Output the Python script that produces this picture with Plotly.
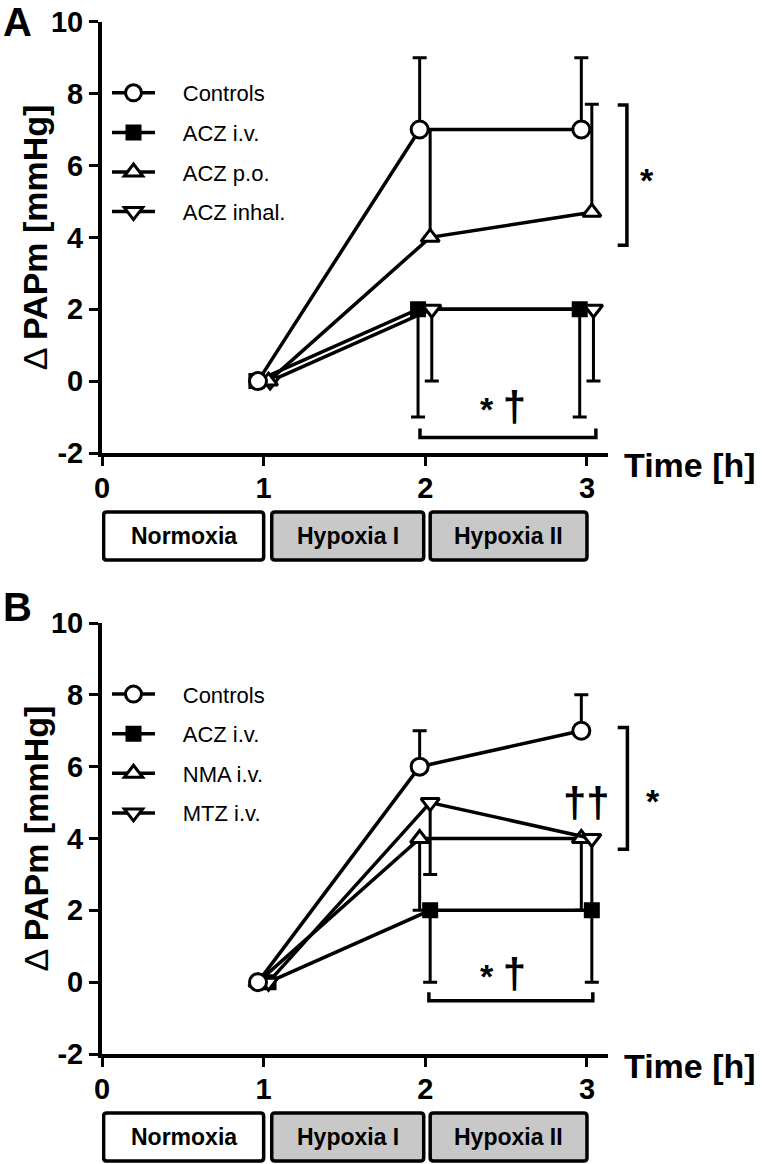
import plotly.graph_objects as go

W, H = 763, 1164
FONT = "Liberation Sans, Arial, Helvetica, sans-serif"

# ---------------- data ----------------
times = [1, 2, 3]

# Panel A
a_names = ["Controls", "ACZ i.v.", "ACZ p.o.", "ACZ inhal."]
a_controls = [0, 7, 7]
a_controls_up = [0, 2, 2]
a_acz_iv = [0, 2, 2]
a_acz_iv_down = [0, 3, 3]
a_acz_po = [0, 4, 4.7]
a_acz_po_up = [0, 3, 3]
a_acz_inh = [0, 2, 2]
a_acz_inh_down = [0, 2, 2]

# Panel B
b_names = ["Controls", "ACZ i.v.", "NMA i.v.", "MTZ i.v."]
b_controls = [0, 6, 7]
b_controls_up = [0, 1, 1]
b_acz_iv = [0, 2, 2]
b_acz_iv_down = [0, 2, 2]
b_nma = [0, 4, 4]
b_nma_down = [0, 2, 2]
b_mtz = [0, 5, 4]
b_mtz_down = [0, 2, 2]

x_ticks = [0, 1, 2, 3]
y_ticks = [-2, 0, 2, 4, 6, 8, 10]
y_ticktext = ["-2", "0", "2", "4", "6", "8", "10"]
phases = ["Normoxia", "Hypoxia I", "Hypoxia II"]
phase_fill = ["white", "#c8c8c8", "#c8c8c8"]
phase_span = [(0.01, 1.0), (1.05, 1.99), (2.03, 3.0)]

# ---------------- layout geometry ----------------
X_RANGE = [0, 3.13]
Y_RANGE = [-2, 10]
X_DOM = [102 / W, 608 / W]
A_DOM = [1 - 453 / H, 1 - 21.7 / H]
B_DOM = [1 - 1054 / H, 1 - 623 / H]


def xp(v):
    return X_DOM[0] + (v - X_RANGE[0]) / (X_RANGE[1] - X_RANGE[0]) * (X_DOM[1] - X_DOM[0])


def yp(dom, v):
    return dom[0] + (v - Y_RANGE[0]) / (Y_RANGE[1] - Y_RANGE[0]) * (dom[1] - dom[0])


def mk(symbol, size, fill):
    return dict(symbol=symbol, size=size, color=fill, line=dict(color="black", width=3))


M_CIRCLE = mk("circle", 17, "white")
M_SQUARE = mk("square", 13, "black")
M_TUP = mk("triangle-up", 16, "white")
M_TDOWN = mk("triangle-down", 16, "white")

LEFT, RIGHT = -0.035, 0.03
PAD = "\u00a0\u00a0\u00a0\u2009"

fig = go.Figure()


def add_series(name, y, up, down, marker, nudge, xa, ya, legend, rank):
    fig.add_trace(go.Scatter(
        x=[t + nudge for t in times], y=y, mode="lines+markers", name=PAD + name,
        line=dict(color="black", width=3.5), marker=marker,
        error_y=dict(type="data", symmetric=False, array=up, arrayminus=down,
                     color="black", thickness=3, width=7),
        xaxis=xa, yaxis=ya, legend=legend, legendgroup=f"{legend}{rank}", legendrank=rank,
        cliponaxis=False))


# drawing order (bottom to top); legend order via legendrank
add_series(a_names[1], a_acz_iv, [0, 0, 0], a_acz_iv_down, M_SQUARE, LEFT - 0.01, "x", "y", "legend", 2)
add_series(a_names[3], a_acz_inh, [0, 0, 0], a_acz_inh_down, M_TDOWN, RIGHT + 0.01, "x", "y", "legend", 4)
add_series(a_names[2], a_acz_po, a_acz_po_up, [0, 0, 0], M_TUP, RIGHT, "x", "y", "legend", 3)
add_series(a_names[0], a_controls, a_controls_up, [0, 0, 0], M_CIRCLE, LEFT, "x", "y", "legend", 1)

add_series(b_names[1], b_acz_iv, [0, 0, 0], b_acz_iv_down, M_SQUARE, RIGHT, "x2", "y2", "legend2", 2)
add_series(b_names[2], b_nma, [0, 0, 0], b_nma_down, M_TUP, LEFT, "x2", "y2", "legend2", 3)
add_series(b_names[3], b_mtz, [0, 0, 0], b_mtz_down, M_TDOWN, RIGHT, "x2", "y2", "legend2", 4)
add_series(b_names[0], b_controls, b_controls_up, [0, 0, 0], M_CIRCLE, LEFT, "x2", "y2", "legend2", 1)

xaxis_style = dict(range=X_RANGE, domain=X_DOM, tickvals=x_ticks, ticks="outside", ticklen=9, tickwidth=3,
                   tickcolor="black", showline=True, linecolor="black", linewidth=4, showgrid=False,
                   zeroline=False, ticklabelstandoff=-3,
                   tickfont=dict(family=FONT, size=29, color="black", weight="bold"), fixedrange=True)
yaxis_style = dict(range=Y_RANGE, tickvals=y_ticks, ticktext=y_ticktext, ticks="outside", ticklen=9,
                   tickwidth=3, tickcolor="black", showline=True, linecolor="black", linewidth=4,
                   showgrid=False, zeroline=False, ticklabelstandoff=0,
                   tickfont=dict(family=FONT, size=29, color="black", weight="bold"), fixedrange=True)

legend_style = dict(xanchor="left", yanchor="top", bgcolor="rgba(0,0,0,0)", borderwidth=0,
                    font=dict(family=FONT, size=22, color="black"), itemwidth=43,
                    tracegroupgap=8, itemsizing="trace", traceorder="grouped")

shapes = []
annotations = []

for dom, suffix in ((A_DOM, ""), (B_DOM, "2")):
    # phase boxes below x axis
    top = yp(dom, -2) - 59 / H
    bot = yp(dom, -2) - 107 / H
    for (x0, x1), label, fill in zip(phase_span, phases, phase_fill):
        rx, ry = 0.02, 3 / H
        path = (f"M{x0 + rx},{top} L{x1 - rx},{top} Q{x1},{top} {x1},{top - ry} "
                f"L{x1},{bot + ry} Q{x1},{bot} {x1 - rx},{bot} L{x0 + rx},{bot} "
                f"Q{x0},{bot} {x0},{bot + ry} L{x0},{top - ry} Q{x0},{top} {x0 + rx},{top} Z")
        shapes.append(dict(type="path", xref="x" + suffix, yref="paper", path=path,
                           fillcolor=fill, line=dict(color="black", width=3.5), layer="above"))
        annotations.append(dict(x=(x0 + x1) / 2, y=(top + bot) / 2, xref="x" + suffix, yref="paper",
                                text=f"<b>{label}</b>", showarrow=False, xanchor="center", yanchor="middle",
                                font=dict(family=FONT, size=23, color="black")))
    # axis title (x)
    annotations.append(dict(x=622 / W, y=yp(dom, -2) - 12 / H, xref="paper", yref="paper",
                            text="<b>Time [h]</b>", showarrow=False, xanchor="left", yanchor="middle",
                            font=dict(family=FONT, size=34, color="black")))
    # axis title (y)
    annotations.append(dict(x=35 / W, y=(dom[0] + dom[1]) / 2, xref="paper", yref="paper",
                            text="Δ <b>PAPm [mmHg]</b>", textangle=-90, showarrow=False,
                            xanchor="center", yanchor="middle",
                            font=dict(family=FONT, size=34, color="black")))

# panel letters
annotations.append(dict(x=17 / W, y=1 - 22 / H, xref="paper", yref="paper", text="<b>A</b>",
                        showarrow=False, xanchor="center", yanchor="middle",
                        font=dict(family=FONT, size=40, color="black")))
annotations.append(dict(x=17 / W, y=1 - 607 / H, xref="paper", yref="paper", text="<b>B</b>",
                        showarrow=False, xanchor="center", yanchor="middle",
                        font=dict(family=FONT, size=40, color="black")))

SIG_FONT = dict(family=FONT, size=34, color="black", weight="bold")
DAG = "<span style='font-size:42px'>†</span>"

# significance brackets, panel A
shapes.append(dict(type="path", xref="paper", yref="paper", line=dict(color="black", width=3.5),
                   path=f"M{xp(3.19)},{yp(A_DOM, 7.68)} H{xp(3.247)} V{yp(A_DOM, 3.78)} H{xp(3.19)}"))
annotations.append(dict(x=xp(3.37), y=yp(A_DOM, 5.6), xref="paper", yref="paper", text="*",
                        showarrow=False, xanchor="center", yanchor="middle", font=SIG_FONT))
shapes.append(dict(type="path", xref="x", yref="y", line=dict(color="black", width=3.5),
                   path="M1.967,-1.32 V-1.57 H3.055 V-1.32"))
annotations.append(dict(x=2.48, y=-0.71, xref="x", yref="y", text="* " + DAG, showarrow=False,
                        xanchor="center", yanchor="middle", font=SIG_FONT))

# significance brackets, panel B
shapes.append(dict(type="path", xref="paper", yref="paper", line=dict(color="black", width=3.5),
                   path=f"M{xp(3.19)},{yp(B_DOM, 7.09)} H{xp(3.25)} V{yp(B_DOM, 3.7)} H{xp(3.19)}"))
annotations.append(dict(x=xp(3.41), y=yp(B_DOM, 5.05), xref="paper", yref="paper", text="*",
                        showarrow=False, xanchor="center", yanchor="middle", font=SIG_FONT))
annotations.append(dict(x=3.0, y=5.0, xref="x2", yref="y2", text=DAG + DAG, showarrow=False,
                        xanchor="center", yanchor="middle", font=SIG_FONT))
shapes.append(dict(type="path", xref="x2", yref="y2", line=dict(color="black", width=3.5),
                   path="M2.022,-0.28 V-0.52 H3.036 V-0.28"))
annotations.append(dict(x=2.48, y=0.24, xref="x2", yref="y2", text="* " + DAG, showarrow=False,
                        xanchor="center", yanchor="middle", font=SIG_FONT))

fig.update_layout(
    width=W, height=H, margin=dict(l=0, r=0, t=0, b=0, autoexpand=False),
    paper_bgcolor="white", plot_bgcolor="white", showlegend=True,
    font=dict(family=FONT, color="black"),
    xaxis=dict(anchor="y", **xaxis_style),
    yaxis=dict(anchor="x", domain=A_DOM, **yaxis_style),
    xaxis2=dict(anchor="y2", **xaxis_style),
    yaxis2=dict(anchor="x2", domain=B_DOM, **yaxis_style),
    legend=dict(x=107 / W, y=1 - 72 / H, **legend_style),
    legend2=dict(x=107 / W, y=1 - (72 + 601.3) / H, **legend_style),
    shapes=shapes, annotations=annotations,
)

fig.write_html("out.html", config={"displayModeBar": False},
               post_script="document.body.style.margin='0';document.body.style.overflow='hidden';")
